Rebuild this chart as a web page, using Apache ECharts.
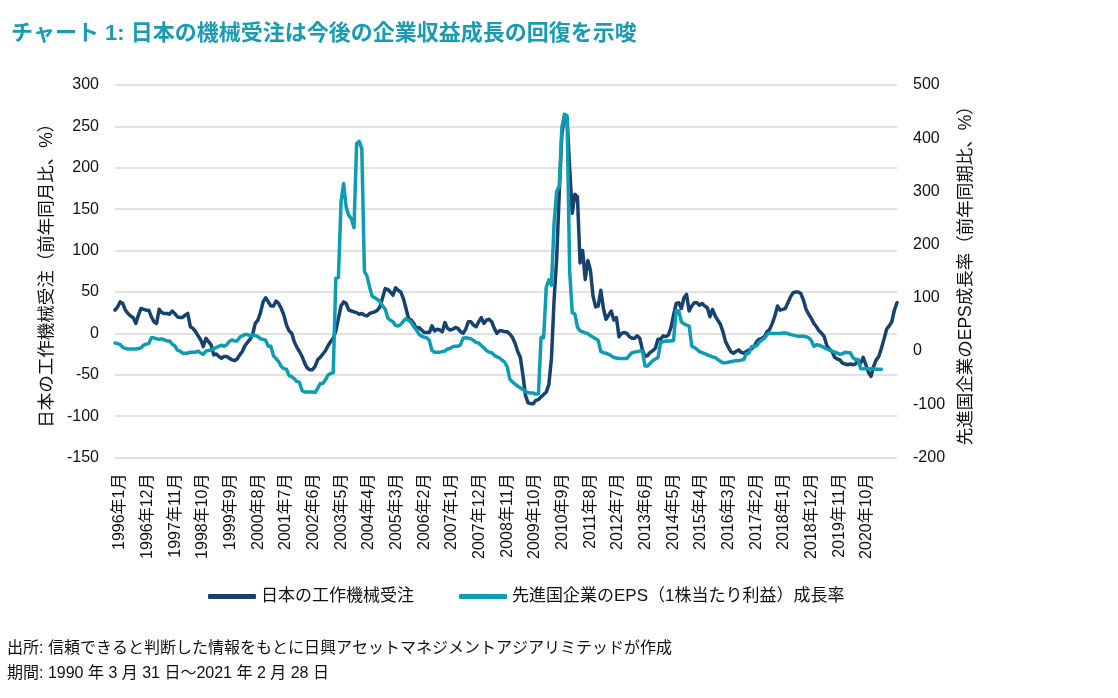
<!DOCTYPE html>
<html>
<head>
<meta charset="utf-8">
<script src="https://cdn.jsdelivr.net/npm/echarts@6/dist/echarts.min.js"></script>
<style>
html,body{margin:0;padding:0;background:#fff;}
#chart{width:1118px;height:698px;}
</style>
</head>
<body>
<div id="chart"></div>
<script>
// Monthly machine tool orders YoY (%), 1996-01 .. 2021-02 (left axis)
var machineOrders = [
28,32,38,36,28,24,21,19,12,22,30,29,28,28,20,14,12,29,25,24,
24,23,27,24,20,19,19,22,24,8,6,2,-3,-8,-16,-6,-10,-14,-26,-25,
-28,-30,-28,-28,-30,-32,-33,-31,-26,-22,-15,-11,-7,-1,12,16,25,38,43,38,
33,33,39,36,30,22,10,3,0,-10,-17,-22,-28,-36,-42,-44,-44,-40,-32,-29,
-25,-21,-15,-10,-6,3,18,33,38,36,28,27,26,25,23,24,22,21,24,25,
26,28,32,43,54,53,50,46,55,52,50,42,30,18,16,12,6,7,4,1,
1,1,9,3,5,4,2,13,6,4,5,7,6,2,0,5,14,14,10,8,
14,19,12,16,17,14,6,0,3,3,2,2,-1,-5,-12,-22,-29,-50,-75,-84,
-85,-85,-81,-80,-77,-74,-71,-62,-30,40,90,170,240,263,260,200,145,168,165,85,
100,65,88,76,45,32,33,52,30,17,22,27,16,19,-4,0,1,0,-4,-6,
-6,-3,-6,-20,-28,-27,-23,-21,-18,-7,-7,-3,-4,-2,7,22,36,37,30,43,
47,27,33,37,37,34,36,33,31,20,29,21,16,11,2,-10,-16,-22,-24,-22,
-20,-23,-24,-22,-20,-19,-16,-10,-7,-6,-4,2,5,12,21,33,28,29,30,37,
44,49,50,50,48,40,29,23,18,12,8,3,0,-4,-15,-19,-22,-29,-31,-32,
-36,-37,-38,-37,-38,-37,-33,-36,-29,-38,-47,-52,-40,-32,-28,-18,-7,5,9,14,
28,37
];
// Developed-market EPS growth YoY (%), 1996-01 .. 2020-08 (right axis)
var epsGrowth = [
15,14,12,7,5,4,4,4,4,5,6,11,13,14,25,25,23,22,23,21,
19,19,13,10,2,0,-4,-4,-4,-2,-2,-2,0,-4,-6,0,1,2,4,7,
9,11,9,12,18,21,19,19,26,29,31,31,29,30,29,27,23,22,20,9,
9,-9,-14,-20,-29,-33,-34,-46,-48,-52,-57,-59,-74,-77,-77,-77,-77,-78,-70,-61,
-61,-54,-45,-42,-41,137,138,280,315,270,255,248,232,390,394,380,150,141,120,103,
100,97,93,85,79,62,58,55,48,47,50,56,61,58,54,46,40,32,28,26,
25,20,1,-2,-2,-2,-1,0,4,5,8,9,9,12,24,25,24,23,20,16,
15,10,6,1,-2,-3,-8,-11,-13,-17,-21,-30,-53,-58,-62,-66,-69,-72,-76,-78,
-79,-79,-81,-80,26,25,120,134,124,240,300,310,420,445,442,150,72,70,45,38,
36,34,33,29,26,23,20,-1,-3,-4,-6,-9,-12,-13,-14,-14,-14,-14,-8,-3,
-2,-1,0,0,-28,-28,-23,-18,-15,-12,15,18,19,19,19,20,76,76,55,51,
49,47,9,7,3,-1,-3,-5,-7,-9,-11,-12,-16,-19,-22,-22,-21,-20,-19,-18,
-18,-17,-16,-5,-4,8,9,10,17,21,24,31,34,33,33,33,33,34,34,33,
31,30,29,28,28,28,27,25,20,9,12,11,9,6,4,2,0,-2,-4,-6,
-5,-2,-3,-3,-12,-16,-16,-33,-33,-33,-33,-33,-33,-34,-34,-34
];
// Tick labels as printed under the axis
var tickLabels = [
'1996年1月','1996年12月','1997年11月','1998年10月','1999年9月','2000年8月','2001年7月',
'2002年6月','2003年5月','2004年4月','2005年3月','2006年2月','2007年1月','2007年12月',
'2008年11月','2009年10月','2010年9月','2011年8月','2012年7月','2013年6月','2014年5月',
'2015年4月','2016年3月','2017年2月','2018年1月','2018年12月','2019年11月','2020年10月'
];
var seriesNames = ['日本の工作機械受注','先進国企業のEPS（1株当たり利益）成長率'];

// month categories for the data axis
var months = [];
for (var i = 0; i < machineOrders.length; i++) {
  var y = 1996 + Math.floor(i / 12), mo = (i % 12) + 1;
  months.push(y + '年' + mo + '月');
}
// label axis slots (labels every 11 slots, as in the reference)
var labelSlots = [];
for (var j = 0; j < 312; j++) {
  var k = (j - 2) / 11;
  labelSlots.push(j >= 2 && (j - 2) % 11 === 0 && k < tickLabels.length ? tickLabels[k] : '');
}
var epsPadded = epsGrowth.concat(new Array(machineOrders.length - epsGrowth.length).fill(null));

var FONT = '"Liberation Sans", "Noto Sans CJK JP", sans-serif';
var chart = echarts.init(document.getElementById('chart'), null, {renderer: 'canvas'});
chart.setOption({
  animation: false,
  backgroundColor: '#ffffff',
  textStyle: {fontFamily: FONT},
  title: {
    text: 'チャート 1: 日本の機械受注は今後の企業収益成長の回復を示唆',
    left: 6, top: 18,
    textStyle: {color: '#1b9ab0', fontSize: 22, fontWeight: 'bold', fontFamily: FONT}
  },
  grid: {left: 115, right: 221, top: 85, bottom: 240.5, containLabel: false},
  legend: {
    left: 203, top: 583,
    itemWidth: 48, itemHeight: 5, itemGap: 45,
    icon: 'roundRect',
    textStyle: {fontSize: 17, color: '#111', fontFamily: FONT},
    data: seriesNames
  },
  xAxis: [
    {
      type: 'category', data: months, boundaryGap: false,
      axisLine: {show: false}, axisTick: {show: false}, axisLabel: {show: false},
      splitLine: {show: false}
    },
    {
      type: 'category', data: labelSlots, boundaryGap: false, position: 'bottom',
      axisLine: {show: false}, axisTick: {show: false},
      axisLabel: {interval: 0, rotate: 90, margin: 16, fontSize: 16, color: '#111', fontFamily: FONT},
      splitLine: {show: false}
    }
  ],
  yAxis: [
    {
      type: 'value', min: -150, max: 300, interval: 50, position: 'left',
      name: '日本の工作機械受注（前年同月比、%）',
      nameLocation: 'middle', nameRotate: 90, nameGap: 56,
      nameTextStyle: {fontSize: 17.5, color: '#111', fontFamily: FONT},
      axisLine: {show: false}, axisTick: {show: false},
      axisLabel: {margin: 16, fontSize: 16, color: '#111', fontFamily: FONT},
      splitLine: {lineStyle: {color: '#d9d9d9', width: 1.5}}
    },
    {
      type: 'value', min: -200, max: 500, interval: 100, position: 'right',
      name: '先進国企業のEPS成長率（前年同期比、%）',
      nameLocation: 'middle', nameRotate: 90, nameGap: 60,
      nameTextStyle: {fontSize: 17.5, color: '#111', fontFamily: FONT},
      axisLine: {show: false}, axisTick: {show: false},
      axisLabel: {margin: 16, fontSize: 16, color: '#111', fontFamily: FONT},
      splitLine: {show: false}
    }
  ],
  series: [
    {
      name: seriesNames[0], type: 'line', data: machineOrders,
      xAxisIndex: 0, yAxisIndex: 0, showSymbol: false, symbol: 'none',
      lineStyle: {color: '#17416e', width: 3.5, join: 'round', cap: 'round'},
      itemStyle: {color: '#17416e'}
    },
    {
      name: seriesNames[1], type: 'line', data: epsPadded,
      xAxisIndex: 0, yAxisIndex: 1, showSymbol: false, symbol: 'none',
      lineStyle: {color: '#0e9cb3', width: 3.5, join: 'round', cap: 'round'},
      itemStyle: {color: '#0e9cb3'}
    }
  ],
  graphic: [
    {type: 'text', left: 7, top: 641, style: {text: '出所: 信頼できると判断した情報をもとに日興アセットマネジメントアジアリミテッドが作成', fontSize: 16, fill: '#111', fontFamily: FONT}},
    {type: 'text', left: 7, top: 666, style: {text: '期間: 1990 年 3 月 31 日～2021 年 2 月 28 日', fontSize: 16, fill: '#111', fontFamily: FONT}}
  ]
});
</script>
</body>
</html>
